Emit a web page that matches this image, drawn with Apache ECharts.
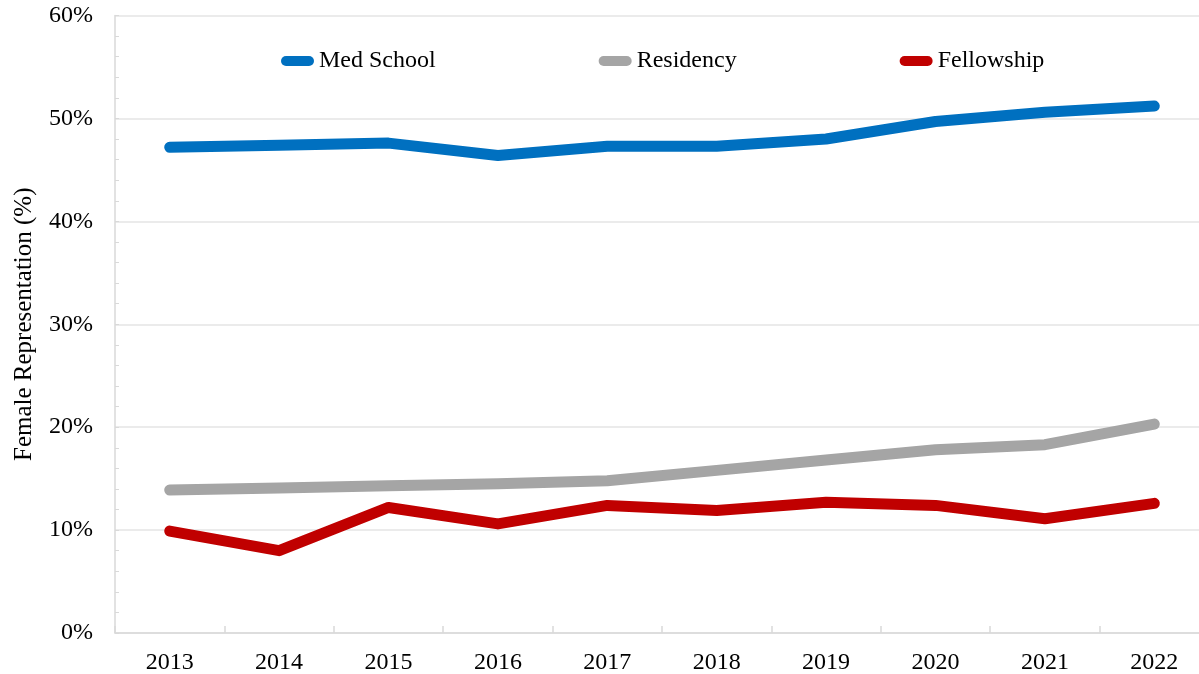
<!DOCTYPE html>
<html>
<head>
<meta charset="utf-8">
<script src="https://cdn.jsdelivr.net/npm/echarts@6/dist/echarts.min.js"></script>
<style>
  html, body { margin: 0; padding: 0; background: #fff; overflow: hidden; }
  #chart { width: 1199px; height: 674px; }
</style>
</head>
<body>
<div id="chart"></div>
<script>
// Share of women at each training stage, by year (%)
const years = ['2013', '2014', '2015', '2016', '2017', '2018', '2019', '2020', '2021', '2022'];
const medSchool = [47.2, 47.4, 47.6, 46.4, 47.3, 47.3, 48.0, 49.7, 50.6, 51.2];
const residency = [13.9, 14.1, 14.3, 14.5, 14.8, 15.8, 16.8, 17.8, 18.3, 20.3];
const fellowship = [9.9, 8.0, 12.2, 10.6, 12.4, 11.9, 12.7, 12.4, 11.1, 12.6];
const yTicks = [0, 10, 20, 30, 40, 50, 60];

const FONT = 'Liberation Serif';
const AXIS_GREY = '#d9d9d9';

const chart = echarts.init(document.getElementById('chart'), null, { renderer: 'canvas' });

function lineSeries(name, data, color) {
  return {
    name: name,
    type: 'line',
    data: data,
    symbol: 'none',
    color: color,
    lineStyle: { width: 11, color: color, cap: 'round', join: 'round' }
  };
}

const legendIcon = 'path://M5,0 H28 A5,5 0 0 1 28,10 H5 A5,5 0 0 1 5,0 Z';

chart.setOption({
  animation: false,
  backgroundColor: '#ffffff',
  // fixed plot box; the last category runs a little past the right edge
  grid: { left: 115, top: 15.5, width: 1094, height: 617.5, outerBoundsMode: 'none', containLabel: false },
  legend: {
    left: 281,
    top: 49,
    padding: 0,
    itemWidth: 33,
    itemHeight: 10,
    itemGap: 163,
    icon: legendIcon,
    textStyle: { fontFamily: FONT, fontSize: 24, color: '#000' },
    data: ['Med School', 'Residency', 'Fellowship']
  },
  xAxis: {
    type: 'category',
    data: years,
    boundaryGap: true,
    axisLine: { lineStyle: { color: AXIS_GREY, width: 1.5 } },
    axisTick: { show: true, inside: true, length: 7, lineStyle: { color: AXIS_GREY, width: 1.5 } },
    axisLabel: { fontFamily: FONT, fontSize: 24, color: '#000', margin: 18 },
    splitLine: { show: false }
  },
  yAxis: {
    type: 'value',
    min: yTicks[0],
    max: yTicks[yTicks.length - 1],
    interval: 10,
    name: 'Female Representation (%)',
    nameLocation: 'middle',
    nameGap: 78,
    nameTextStyle: { fontFamily: FONT, fontSize: 25, color: '#000' },
    axisLine: { show: true, lineStyle: { color: AXIS_GREY, width: 1.5 } },
    axisTick: { show: true, inside: true, length: 4, lineStyle: { color: AXIS_GREY } },
    minorTick: { show: true, splitNumber: 5, length: 4, lineStyle: { color: AXIS_GREY } },
    axisLabel: { fontFamily: FONT, fontSize: 24, color: '#000', margin: 22, formatter: '{value}%' },
    splitLine: { show: true, lineStyle: { color: '#e4e4e4', width: 1.5 } }
  },
  series: [
    lineSeries('Med School', medSchool, '#0070c0'),
    lineSeries('Residency', residency, '#a5a5a5'),
    lineSeries('Fellowship', fellowship, '#c00000')
  ]
});
</script>
</body>
</html>
